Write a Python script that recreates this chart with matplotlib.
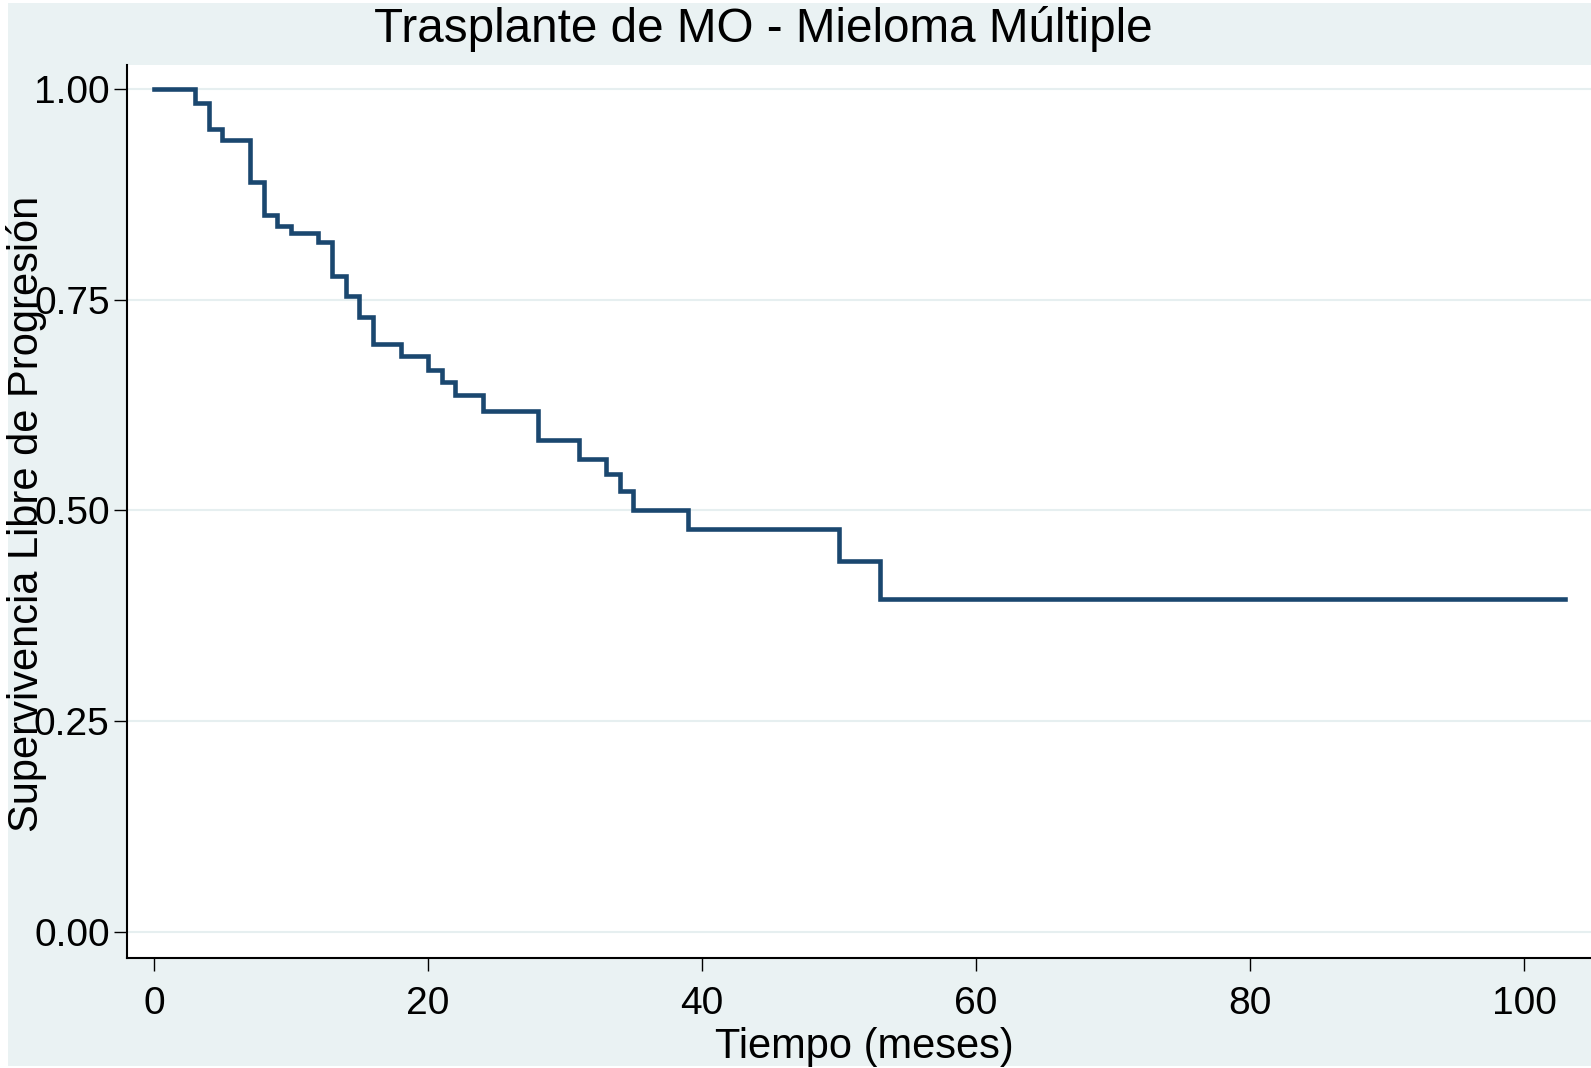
import matplotlib
matplotlib.use('Agg')
import matplotlib.pyplot as plt
from matplotlib.patches import Rectangle

# Kaplan-Meier steps (months, survival)
tiempo = [0, 3, 4, 5, 7, 8, 9, 10, 12, 13, 14, 15, 16, 18, 20, 21, 22, 24,
          28, 31, 33, 34, 35, 39, 50, 53, 103]
supervivencia = [1.0, 0.983, 0.952, 0.940, 0.890, 0.850, 0.838, 0.829, 0.818,
                 0.778, 0.754, 0.729, 0.698, 0.683, 0.667, 0.652, 0.637, 0.618,
                 0.583, 0.561, 0.543, 0.523, 0.501, 0.478, 0.440, 0.395, 0.395]

x_ticks = [0, 20, 40, 60, 80, 100]
y_ticks = [0.0, 0.25, 0.5, 0.75, 1.0]
y_ticklabels = ['0.00', '0.25', '0.50', '0.75', '1.00']

titulo = 'Trasplante de MO - Mieloma Múltiple'
x_titulo = 'Tiempo (meses)'
y_titulo = 'Supervivencia Libre de Progresión'

plt.rcParams['font.family'] = ['Liberation Sans', 'DejaVu Sans']

W, H = 1591, 1068
fig = plt.figure(figsize=(W / 100, H / 100), dpi=100)
fig.patch.set_facecolor('white')

# bluish graph region (Stata s2color style)
fig.patches.append(Rectangle((8 / W, 1 - 1066 / H), 1 - 8 / W, (1066 - 3) / H,
                             transform=fig.transFigure, facecolor='#eaf2f3',
                             edgecolor='none', zorder=-10))

ax = fig.add_axes([127 / W, 1 - 958 / H, 1 - 127 / W, (958 - 65) / H])
ax.set_zorder(1)
ax.set_facecolor('white')

ax.step(tiempo, supervivencia, where='post', color='#1a476f', linewidth=3.3,
        solid_joinstyle='miter', zorder=3)

ax.set_xlim(-1.97, (W - 154) / 13.7)
ax.set_ylim(-0.031, 1.0285)

ax.set_xticks(x_ticks)
ax.set_yticks(y_ticks)
ax.set_yticklabels(y_ticklabels)
ax.tick_params(axis='both', labelsize=28, length=9.5, width=1.0, color='black')
ax.tick_params(axis='x', pad=11)
ax.tick_params(axis='y', pad=3)

ax.grid(axis='y', color='#e6eff0', linewidth=1.5, zorder=1)
ax.grid(axis='x', visible=False)

for s in ['top', 'right']:
    ax.spines[s].set_visible(False)
for s in ['left', 'bottom']:
    ax.spines[s].set_linewidth(1.5)
    ax.spines[s].set_color('black')

fig.text(763 / W, 1 - 42 / H, titulo, fontsize=34.3, ha='center', va='baseline')
fig.text(864.5 / W, 1 - 1058 / H, x_titulo, fontsize=30, ha='center', va='baseline')
fig.text(38 / W, 1 - 513.5 / H, y_titulo, fontsize=30, rotation=90,
         rotation_mode='anchor', ha='center', va='baseline', zorder=5)

fig.savefig('out.png', dpi=100, facecolor=fig.get_facecolor())
